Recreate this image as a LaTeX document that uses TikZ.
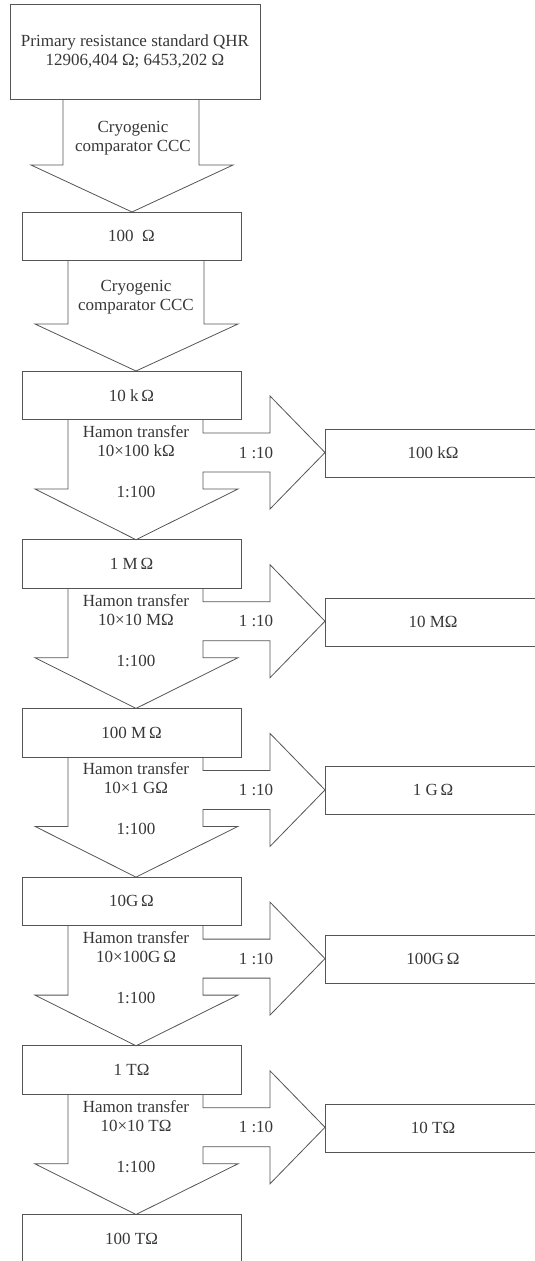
\documentclass[tikz,border=0pt]{standalone}
\usepackage{fontspec}
\setmainfont{Liberation Serif}
\definecolor{lc}{RGB}{85,85,85}
\definecolor{tc}{RGB}{55,55,55}
\newcommand\myfs{\fontsize{17}{19}\selectfont}
\begin{document}
\begin{tikzpicture}[x=1pt,y=-1pt,line width=0.8pt,
  ln/.style={draw=lc,line join=miter},
  box/.style={draw=lc,rectangle,inner sep=0pt,text=tc,font=\myfs,align=center},
  lbl/.style={text=tc,font=\myfs,align=center,inner sep=0pt}]
\useasboundingbox (0,0) rectangle (535,1261);
% top
\node[box,minimum width=250pt,minimum height=95pt] (qhr) at (135,51.5) {Primary resistance standard QHR\\12906,404 Ω; 6453,202 Ω};
\draw[ln] (63,99) -- (63,165) -- (31,165) -- (132,212) -- (233,165) -- (199,165) -- (199,99);
\node[lbl] (c1) at (133,138) {Cryogenic\\comparator CCC};
\node[box,minimum width=219pt,minimum height=48pt] (b100) at (131.5,236) {100~~Ω};
\draw[ln] (68,260) -- (68,324) -- (35,324) -- (136,371) -- (238,324) -- (204,324) -- (204,260);
\node[lbl] (c2) at (136,297) {Cryogenic\\comparator CCC};
% stages
\foreach \i/\a/\h/\r in {0/{10 k\,Ω}/{10×100 kΩ}/{100 kΩ},1/{1 M\,Ω}/{10×10 MΩ}/{10 MΩ},2/{100 M\,Ω}/{10×1 GΩ}/{1 G\,Ω},3/{10G\,Ω}/{10×100G\,Ω}/{100G\,Ω},4/{1 TΩ}/{10×10 TΩ}/{10 TΩ}}{
  \pgfmathsetmacro\T{371+168.7*\i}
  \node[box,minimum width=219pt,minimum height=48.5pt] (b\i) at (131.5,{\T+24.25}) {\a};
  \draw[ln] (68,{\T+48.5}) -- (68,{\T+118}) -- (35,{\T+118}) -- (136,{\T+168.7}) -- (238,{\T+118}) -- (203,{\T+118}) -- (203,{\T+101}) -- (270,{\T+101}) -- (270,{\T+138}) -- (325,{\T+81.5}) -- (270,{\T+25}) -- (270,{\T+62}) -- (203,{\T+62}) -- (203,{\T+48.5});
  \node[lbl] (h\i) at (136,{\T+70}) {Hamon transfer\\\h};
  \node[lbl] (d\i) at (136,{\T+121}) {1:100};
  \node[lbl] (t\i) at (256,{\T+81.5}) {1~:10};
  \node[box,minimum width=240pt,minimum height=48pt,anchor=north west] (r\i) at (325,{\T+58}) {};
  \node[lbl] (rt\i) at (433,{\T+82}) {\r};
}
\node[box,minimum width=219pt,minimum height=48.5pt] (b5) at (131.5,1238.75) {100 TΩ};
\end{tikzpicture}
\end{document}
